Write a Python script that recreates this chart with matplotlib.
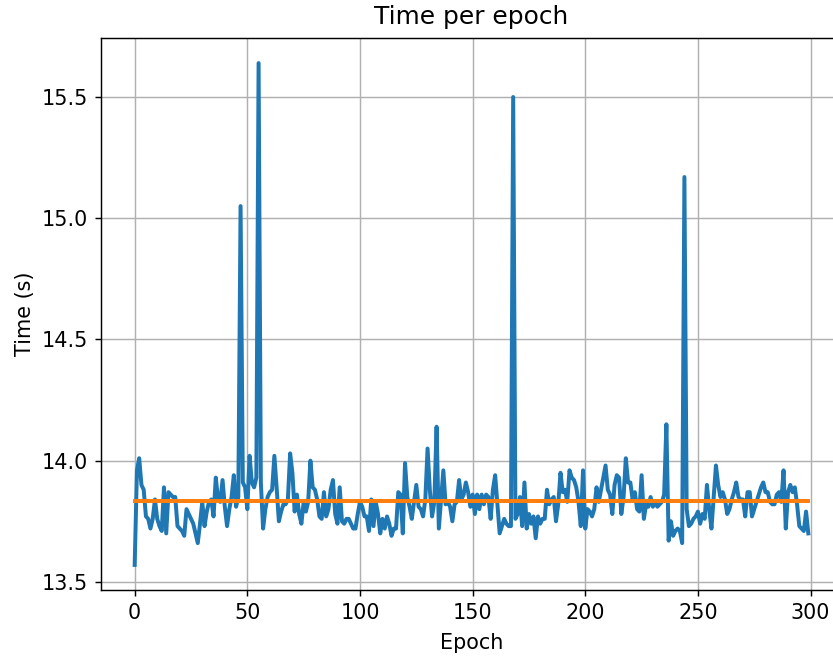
import matplotlib
matplotlib.use("Agg")
import matplotlib.pyplot as plt
import numpy as np

# time per epoch in seconds
epoch_times = [
    13.57, 13.96, 14.01, 13.90, 13.88, 13.77, 13.76, 13.72, 13.76, 13.84,
    13.76, 13.73, 13.71, 13.89, 13.70, 13.87, 13.86, 13.85, 13.85, 13.73,
    13.72, 13.71, 13.69, 13.80, 13.78, 13.76, 13.74, 13.70, 13.66, 13.74,
    13.83, 13.73, 13.79, 13.83, 13.84, 13.77, 13.93, 13.84, 13.83, 13.92,
    13.81, 13.73, 13.80, 13.85, 13.94, 13.81, 13.85, 15.05, 13.91, 13.89,
    13.80, 14.02, 13.91, 13.89, 13.93, 15.64, 13.91, 13.72, 13.80, 13.85,
    13.87, 13.88, 14.02, 13.89, 13.75, 13.79, 13.82, 13.82, 13.84, 14.03,
    13.95, 13.79, 13.86, 13.78, 13.74, 13.83, 13.79, 13.83, 14.00, 13.89,
    13.88, 13.84, 13.77, 13.76, 13.87, 13.77, 13.80, 13.88, 13.92, 13.78,
    13.74, 13.89, 13.75, 13.74, 13.76, 13.76, 13.74, 13.72, 13.72, 13.78,
    13.83, 13.81, 13.77, 13.77, 13.71, 13.84, 13.73, 13.83, 13.78, 13.70,
    13.76, 13.72, 13.77, 13.74, 13.69, 13.72, 13.72, 13.87, 13.86, 13.70,
    13.99, 13.85, 13.81, 13.76, 13.83, 13.90, 13.81, 13.80, 13.77, 13.84,
    14.05, 13.88, 13.77, 13.83, 14.14, 13.72, 13.84, 13.96, 13.82, 13.83,
    13.81, 13.75, 13.82, 13.83, 13.92, 13.84, 13.86, 13.91, 13.87, 13.81,
    13.86, 13.78, 13.86, 13.80, 13.86, 13.82, 13.86, 13.85, 13.76, 13.88,
    13.94, 13.82, 13.70, 13.73, 13.76, 13.74, 13.73, 13.73, 15.50, 13.76,
    13.78, 13.85, 13.73, 13.91, 13.72, 13.78, 13.74, 13.77, 13.68, 13.77,
    13.74, 13.76, 13.76, 13.88, 13.82, 13.84, 13.85, 13.75, 13.82, 13.95,
    13.87, 13.88, 13.83, 13.96, 13.93, 13.92, 13.89, 13.83, 13.73, 13.96,
    13.72, 13.80, 13.79, 13.77, 13.80, 13.89, 13.83, 13.88, 13.93, 13.98,
    13.88, 13.86, 13.78, 13.90, 13.94, 13.93, 13.78, 13.85, 14.01, 13.91,
    13.91, 13.84, 13.87, 13.80, 13.79, 13.94, 13.76, 13.82, 13.81, 13.85,
    13.81, 13.83, 13.81, 13.82, 13.83, 13.86, 14.15, 13.67, 13.75, 13.69,
    13.71, 13.72, 13.71, 13.66, 15.17, 13.80, 13.73, 13.74, 13.76, 13.77,
    13.79, 13.74, 13.78, 13.76, 13.90, 13.80, 13.72, 13.85, 13.98, 13.90,
    13.85, 13.87, 13.84, 13.78, 13.80, 13.84, 13.87, 13.91, 13.85, 13.84,
    13.84, 13.77, 13.87, 13.87, 13.77, 13.80, 13.83, 13.86, 13.89, 13.91,
    13.87, 13.87, 13.83, 13.82, 13.82, 13.86, 13.87, 13.83, 13.96, 13.72,
    13.87, 13.90, 13.87, 13.89, 13.82, 13.73, 13.72, 13.71, 13.79, 13.70,
]
mean_time = 13.835

epochs = np.arange(len(epoch_times))

plt.rcParams['font.size'] = 11.5

fig = plt.figure(figsize=(833 / 130, 656 / 130), dpi=130)
# right side of the axes falls outside the picture, like the reference
ax = fig.add_axes([101 / 833, 66 / 656, 741 / 833, 552 / 656])
ax.plot(epochs, epoch_times, lw=2.2)
ax.plot(epochs, [mean_time] * len(epochs), lw=2.2)
ax.set_title("Time per epoch", pad=7.5)
ax.set_xlabel("Epoch", labelpad=5.5)
ax.set_ylabel("Time (s)")
ax.grid(True)
ax.set_yticks([13.5, 14.0, 14.5, 15.0, 15.5])

fig.savefig("out.png", dpi=130)
